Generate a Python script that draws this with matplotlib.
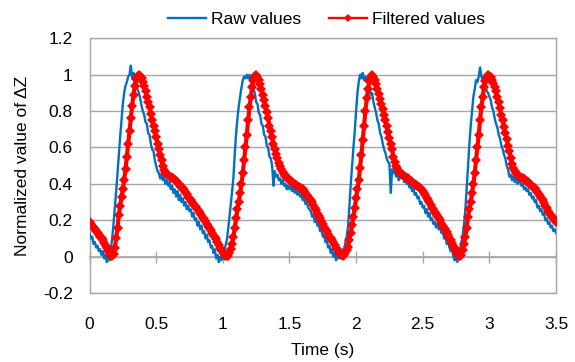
import matplotlib.pyplot as plt
import numpy as np

plt.rcParams['font.family'] = ['Liberation Sans', 'DejaVu Sans']
plt.rcParams['font.size'] = 12.5

# sample times, 10 ms step
time_s = np.round(np.arange(351) * 0.01, 2)

raw_values = [
    0.13, 0.10, 0.11, 0.07, 0.08, 0.05, 0.06, 0.03, 0.04, 0.01,
    0.03, -0.01, 0.01, -0.03, 0.00, -0.02, 0.04, 0.10, 0.18, 0.27,
    0.36, 0.46, 0.56, 0.66, 0.75, 0.84, 0.90, 0.94, 0.96, 0.99,
    1.00, 1.05, 0.98, 1.01, 0.95, 0.97, 0.92, 0.90, 0.87, 0.83,
    0.80, 0.78, 0.74, 0.73, 0.68, 0.67, 0.62, 0.59, 0.58, 0.53,
    0.50, 0.47, 0.46, 0.43, 0.45, 0.42, 0.44, 0.40, 0.42, 0.39,
    0.41, 0.37, 0.39, 0.35, 0.37, 0.33, 0.36, 0.31, 0.34, 0.30,
    0.32, 0.28, 0.30, 0.26, 0.28, 0.25, 0.26, 0.22, 0.24, 0.20,
    0.21, 0.17, 0.19, 0.15, 0.17, 0.13, 0.14, 0.10, 0.12, 0.08,
    0.09, 0.05, 0.06, 0.02, 0.04, -0.01, 0.01, -0.03, 0.00, -0.02,
    0.01, 0.03, 0.06, 0.09, 0.15, 0.22, 0.29, 0.36, 0.44, 0.57,
    0.68, 0.76, 0.83, 0.88, 0.93, 0.97, 0.99, 0.98, 1.00, 0.98,
    1.00, 0.96, 0.95, 0.92, 0.90, 0.85, 0.84, 0.79, 0.78, 0.73,
    0.72, 0.67, 0.66, 0.61, 0.60, 0.55, 0.54, 0.50, 0.39, 0.47,
    0.44, 0.45, 0.42, 0.43, 0.40, 0.42, 0.39, 0.40, 0.37, 0.39,
    0.37, 0.39, 0.36, 0.38, 0.35, 0.37, 0.34, 0.36, 0.33, 0.34,
    0.31, 0.33, 0.29, 0.30, 0.27, 0.26, 0.25, 0.22, 0.23, 0.19,
    0.21, 0.17, 0.18, 0.14, 0.15, 0.11, 0.12, 0.08, 0.09, 0.05,
    0.06, 0.02, 0.04, 0.00, 0.02, -0.02, 0.01, -0.01, 0.02, 0.00,
    0.04, 0.03, 0.08, 0.11, 0.17, 0.28, 0.40, 0.50, 0.60, 0.69,
    0.80, 0.90, 0.96, 1.00, 0.98, 1.01, 0.97, 0.99, 0.96, 0.98,
    0.93, 0.89, 0.90, 0.85, 0.82, 0.79, 0.75, 0.73, 0.68, 0.66,
    0.62, 0.59, 0.57, 0.54, 0.52, 0.51, 0.35, 0.48, 0.46, 0.47,
    0.44, 0.46, 0.42, 0.45, 0.43, 0.47, 0.41, 0.43, 0.40, 0.41,
    0.38, 0.39, 0.36, 0.38, 0.34, 0.35, 0.32, 0.33, 0.29, 0.30,
    0.27, 0.28, 0.24, 0.26, 0.22, 0.24, 0.20, 0.21, 0.18, 0.19,
    0.16, 0.18, 0.15, 0.16, 0.13, 0.14, 0.10, 0.11, 0.07, 0.08,
    0.05, 0.03, 0.04, 0.00, -0.02, 0.01, -0.03, 0.02, 0.04, 0.08,
    0.12, 0.18, 0.26, 0.38, 0.50, 0.62, 0.72, 0.80, 0.88, 0.92,
    0.97, 0.96, 0.99, 1.04, 0.99, 0.97, 0.94, 0.95, 0.91, 0.90,
    0.88, 0.86, 0.82, 0.80, 0.76, 0.73, 0.71, 0.67, 0.65, 0.61,
    0.59, 0.56, 0.54, 0.50, 0.48, 0.44, 0.45, 0.42, 0.44, 0.41,
    0.43, 0.40, 0.42, 0.41, 0.39, 0.40, 0.37, 0.38, 0.36, 0.37,
    0.34, 0.35, 0.32, 0.33, 0.30, 0.31, 0.27, 0.28, 0.25, 0.26,
    0.23, 0.24, 0.20, 0.21, 0.18, 0.19, 0.16, 0.17, 0.14, 0.15, 0.13,
]

filtered_values = [
    0.19, 0.18, 0.17, 0.16, 0.15, 0.14, 0.13, 0.12, 0.11, 0.10,
    0.09, 0.075, 0.06, 0.045, 0.03, 0.017, 0.006, 0.002, 0.015, 0.05,
    0.10, 0.16, 0.23, 0.28, 0.33, 0.37, 0.42, 0.48, 0.55, 0.62,
    0.69, 0.76, 0.83, 0.89, 0.94, 0.975, 0.995, 1.0, 0.995, 0.98,
    0.96, 0.94, 0.91, 0.88, 0.85, 0.82, 0.785, 0.75, 0.72, 0.69,
    0.655, 0.62, 0.59, 0.56, 0.53, 0.50, 0.475, 0.46, 0.455, 0.45,
    0.445, 0.44, 0.435, 0.43, 0.42, 0.415, 0.41, 0.40, 0.39, 0.385,
    0.375, 0.365, 0.355, 0.345, 0.33, 0.32, 0.31, 0.30, 0.29, 0.28,
    0.275, 0.26, 0.25, 0.24, 0.23, 0.215, 0.205, 0.195, 0.18, 0.17,
    0.155, 0.145, 0.13, 0.12, 0.11, 0.095, 0.08, 0.065, 0.05, 0.037,
    0.025, 0.013, 0.005, 0.002, 0.005, 0.02, 0.04, 0.07, 0.11, 0.16,
    0.21, 0.26, 0.30, 0.35, 0.40, 0.46, 0.53, 0.60, 0.67, 0.75,
    0.82, 0.88, 0.93, 0.97, 0.995, 1.0, 0.99, 0.97, 0.95, 0.92,
    0.89, 0.86, 0.83, 0.795, 0.76, 0.72, 0.69, 0.655, 0.62, 0.59,
    0.565, 0.54, 0.515, 0.50, 0.48, 0.465, 0.455, 0.445, 0.435, 0.43,
    0.42, 0.415, 0.41, 0.405, 0.40, 0.395, 0.39, 0.385, 0.38, 0.375,
    0.37, 0.36, 0.35, 0.34, 0.33, 0.32, 0.31, 0.30, 0.285, 0.27,
    0.255, 0.24, 0.225, 0.21, 0.195, 0.18, 0.165, 0.15, 0.14, 0.125,
    0.11, 0.10, 0.09, 0.08, 0.065, 0.05, 0.04, 0.025, 0.015, 0.008,
    0.005, 0.008, 0.02, 0.035, 0.055, 0.09, 0.13, 0.175, 0.22, 0.27,
    0.32, 0.37, 0.42, 0.49, 0.56, 0.64, 0.72, 0.80, 0.87, 0.92,
    0.965, 0.99, 1.0, 0.99, 0.97, 0.95, 0.92, 0.895, 0.865, 0.84,
    0.81, 0.78, 0.75, 0.72, 0.685, 0.65, 0.62, 0.59, 0.55, 0.52,
    0.50, 0.485, 0.47, 0.46, 0.455, 0.45, 0.445, 0.44, 0.435, 0.43,
    0.42, 0.415, 0.41, 0.405, 0.40, 0.395, 0.39, 0.385, 0.38, 0.37,
    0.36, 0.35, 0.34, 0.325, 0.31, 0.30, 0.285, 0.27, 0.26, 0.245,
    0.235, 0.225, 0.21, 0.20, 0.185, 0.17, 0.16, 0.15, 0.135, 0.12,
    0.105, 0.09, 0.075, 0.06, 0.045, 0.03, 0.015, 0.005, 0.003, 0.01,
    0.035, 0.07, 0.11, 0.16, 0.22, 0.26, 0.30, 0.35, 0.40, 0.46,
    0.53, 0.60, 0.67, 0.75, 0.82, 0.88, 0.93, 0.965, 0.99, 1.0,
    0.995, 0.985, 0.97, 0.955, 0.935, 0.91, 0.88, 0.85, 0.815, 0.78,
    0.75, 0.715, 0.68, 0.645, 0.61, 0.58, 0.545, 0.51, 0.485, 0.47,
    0.46, 0.45, 0.445, 0.44, 0.435, 0.43, 0.425, 0.42, 0.415, 0.41,
    0.40, 0.395, 0.39, 0.385, 0.375, 0.365, 0.355, 0.345, 0.335, 0.32,
    0.31, 0.295, 0.28, 0.265, 0.25, 0.24, 0.23, 0.22, 0.21, 0.20, 0.19,
]

x_ticks = [0, 0.5, 1, 1.5, 2, 2.5, 3, 3.5]
x_labels = ["0", "0.5", "1", "1.5", "2", "2.5", "3", "3.5"]
y_ticks = [-0.2, 0, 0.2, 0.4, 0.6, 0.8, 1, 1.2]
y_labels = ["-0.2", "0", "0.2", "0.4", "0.6", "0.8", "1", "1.2"]

GREY = "#a6a6a6"
YMIN, YMAX = -0.2, 1.2

fig = plt.figure(figsize=(5.75, 3.62), dpi=100)
ax = fig.add_axes([0.1557, 0.1906, 0.8113, 0.7034])

ax.plot(time_s, raw_values, color="#0070c0", lw=1.7, label="Raw values", zorder=3)
ax.plot(time_s, filtered_values, color="#ff0000", lw=3, marker="D",
        markersize=5.2, markeredgewidth=0, label="Filtered values", zorder=4)

ax.set_xlim(0, 3.5)
ax.set_ylim(YMIN, YMAX)
ax.set_yticks(y_ticks, y_labels)
ax.set_xticks(x_ticks, x_labels)
ax.grid(axis="y", color=GREY, lw=1)
ax.tick_params(axis="both", length=0, colors="black")
ax.tick_params(axis="y", pad=12)
ax.tick_params(axis="x", pad=17)
for sp in ax.spines.values():
    sp.set_color(GREY)
    sp.set_linewidth(1)

# horizontal axis line crosses at y = 0, with tick marks
zero_axis = ax.secondary_xaxis((0 - YMIN) / (YMAX - YMIN))
zero_axis.set_xticks(x_ticks)
zero_axis.tick_params(direction="inout", length=9, width=1, color=GREY,
                      labelbottom=False)
zero_axis.spines["bottom"].set_color(GREY)
zero_axis.spines["bottom"].set_linewidth(1.2)

ax.set_xlabel("Time (s)", labelpad=8)
ax.set_ylabel("Normalized value of \u0394Z")
ax.yaxis.set_label_coords(-0.128, 0.5)

leg = fig.legend(loc="center", bbox_to_anchor=(0.568, 0.947), ncol=2,
                 frameon=False, handlelength=2.2, handletextpad=0.3,
                 columnspacing=1.6, fontsize=12.5, markerscale=0.8)
for line in leg.get_lines():
    line.set_linewidth(1.7)

fig.savefig("out.png", dpi=100)
